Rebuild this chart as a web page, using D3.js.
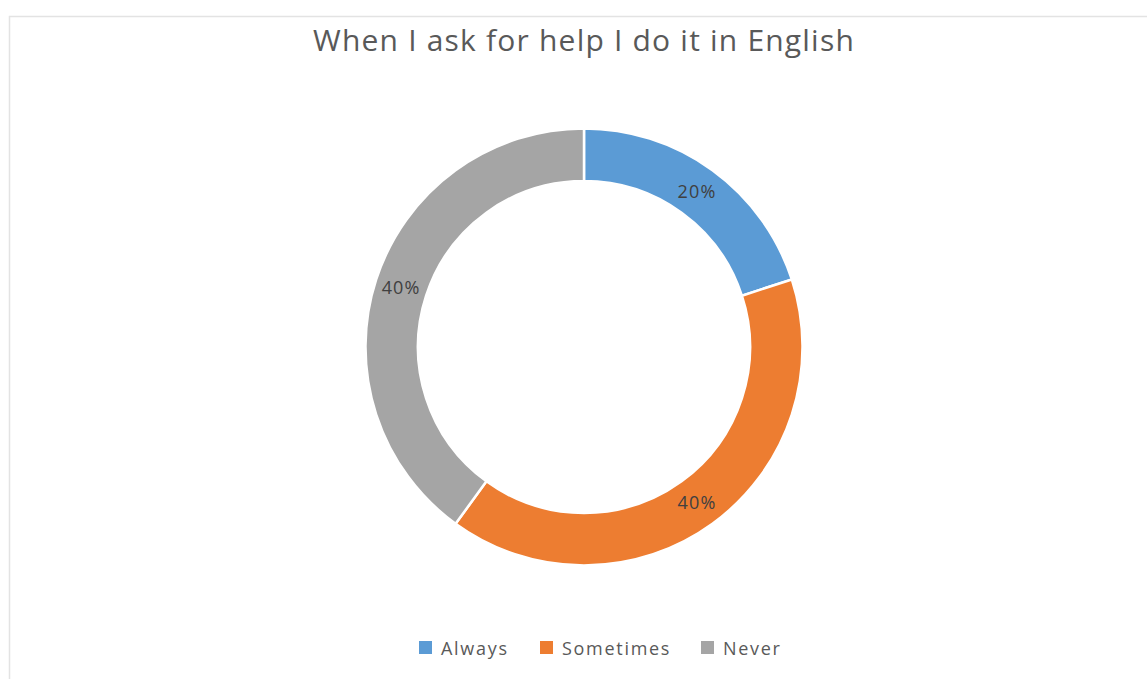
<!DOCTYPE html>
<html><head><meta charset="utf-8">
<script src="https://cdn.jsdelivr.net/npm/d3@7"></script>
<style>body{margin:0;background:#fff;}svg{display:block;}</style>
</head><body>
<svg id="c" width="1147" height="679"></svg>
<script>
const categories = ["Always", "Sometimes", "Never"];
const values = [20, 40, 40];
const colors = ["#5B9BD5", "#ED7D31", "#A5A5A5"];
const title = "When I ask for help I do it in English";

const svg = d3.select("#c");
const font = "'Open Sans', 'Noto Sans', sans-serif";
svg.append("rect").attr("x", 9.5).attr("y", 16.5).attr("width", 1147).attr("height", 700)
  .attr("fill", "#fff").attr("stroke", "#e3e3e3").attr("stroke-width", 1.5);

svg.append("text").attr("x", 584).attr("y", 51).attr("text-anchor", "middle")
  .attr("font-family", font).attr("font-size", 30).attr("letter-spacing", 1.2)
  .attr("fill", "#595959").text(title);

const cx = 584, cy = 347, R = 218.5, r = 166;
const pie = d3.pie().sort(null).value(d => d)(values);
const arc = d3.arc().innerRadius(r).outerRadius(R);
const g = svg.append("g").attr("transform", `translate(${cx},${cy})`);
g.selectAll("path").data(pie).join("path").attr("d", arc)
  .attr("fill", (d, i) => colors[i]).attr("stroke", "#fff").attr("stroke-width", 2.5);
const labelArc = d3.arc().innerRadius((r + R) / 2).outerRadius((r + R) / 2);
g.selectAll("text").data(pie).join("text")
  .attr("transform", d => `translate(${labelArc.centroid(d)})`)
  .attr("text-anchor", "middle").attr("dy", "0.35em")
  .attr("font-family", font).attr("font-size", 18).attr("letter-spacing", 1.2)
  .attr("fill", "#404040")
  .text(d => d.data + "%");

const leg = svg.append("g");
const lx = [419, 540, 701];
categories.forEach((c, i) => {
  leg.append("rect").attr("x", lx[i]).attr("y", 641).attr("width", 13).attr("height", 13).attr("fill", colors[i]);
  leg.append("text").attr("x", lx[i] + 22).attr("y", 655).attr("font-family", font)
    .attr("font-size", 18).attr("letter-spacing", 1.7).attr("fill", "#595959").text(c);
});
</script>
</body></html>
